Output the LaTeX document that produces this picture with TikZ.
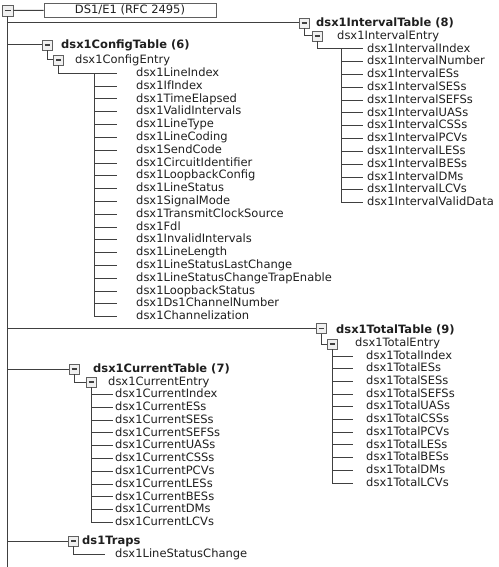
\documentclass[tikz,border=0pt]{standalone}
\usepackage{fontspec}
\setmainfont{DejaVu Sans}
\usepackage{tikz}
\usetikzlibrary{positioning}
\tikzset{
  minusbox/.style={rectangle, draw=gray!75!black, line width=0.9pt, fill=gray!12,
                   minimum width=10pt, minimum height=10pt, inner sep=0pt,
                   path picture={\draw[line width=1.4pt, black!75]
                     ([xshift=2.5pt]path picture bounding box.west) --
                     ([xshift=-2.5pt]path picture bounding box.east);}},
  leaf/.style={anchor=west, inner sep=0pt, text height=8.5pt, text depth=2.2pt,
               text=black!88, font=\fontsize{11.5}{13}\selectfont},
  tabl/.style={leaf, font=\fontsize{11.5}{13}\selectfont\bfseries},
  wire/.style={line width=1pt, draw=black!75},
}

\begin{document}
\begin{tikzpicture}[x=1pt, y=-1pt]
  \useasboundingbox (0,0) rectangle (498,567);
  % root of the tree
  \node[minusbox, minimum size=11pt] (root) at (7.5,10.5) {};
  \node[draw=gray!75!black, line width=0.9pt, minimum width=172pt, minimum height=14pt,
        inner sep=0pt, text=black!88, font=\fontsize{11.5}{13}\selectfont] (mib) at (130,10) {DS1/E1 (RFC 2495)};
  \coordinate (bot) at (7.5,567);
  \draw[wire] (root) -- (mib);
  \draw[wire] (root.south) -- (bot);

  % dsx1IntervalTable
  \node[minusbox] (ivt) at (304,23) {};
  \node[tabl] (ivtT) at (316,23) {dsx1IntervalTable (8)};
  \node[minusbox] (ive) at (317,36) {};
  \node[leaf] (iveT) at (337,36) {dsx1IntervalEntry};
  \foreach \n [count=\i] in {Index,Number,ESs,SESs,SEFSs,UASs,CSSs,PCVs,LESs,BESs,DMs,LCVs,ValidData}
    \node[leaf] (iv\i) at (367,{36.2+12.8*\i}) {dsx1Interval\n};
  \draw[wire] (root.south |- ivt) -- (ivt);
  \draw[wire] (ivt.south) |- (ive.west);
  \draw[wire] (ive.south) |- ([xshift=-26pt]iv1.west) -- ([xshift=-26pt]iv13.west);
  \foreach \i in {1,...,13}
    \draw[wire] ([xshift=-26pt]iv\i.west) -- ([xshift=-4pt]iv\i.west);

  % dsx1ConfigTable
  \node[minusbox] (cft) at (47,45) {};
  \node[tabl] (cftT) at (61,45) {dsx1ConfigTable (6)};
  \node[minusbox] (cfe) at (58.5,60) {};
  \node[leaf] (cfeT) at (75,60) {dsx1ConfigEntry};
  \foreach \n [count=\i] in {LineIndex,IfIndex,TimeElapsed,ValidIntervals,LineType,LineCoding,
      SendCode,CircuitIdentifier,LoopbackConfig,LineStatus,SignalMode,TransmitClockSource,Fdl,
      InvalidIntervals,LineLength,LineStatusLastChange,LineStatusChangeTrapEnable,LoopbackStatus,
      Ds1ChannelNumber,Channelization}
    \node[leaf] (cf\i) at (136,{60.6+12.8*\i}) {dsx1\n};
  \draw[wire] (root.south |- cft) -- (cft);
  \draw[wire] (cft.south) |- (cfe.west);
  \draw[wire] (cfe.south) |- ([xshift=-42pt]cf1.west) -- ([xshift=-42pt]cf20.west);
  \foreach \i in {1,...,20}
    \draw[wire] ([xshift=-42pt]cf\i.west) -- ([xshift=-19pt]cf\i.west);

  % dsx1TotalTable
  \node[minusbox] (ttt) at (321,328.5) {};
  \node[tabl] (tttT) at (336,330) {dsx1TotalTable (9)};
  \node[minusbox] (tte) at (332,344) {};
  \node[leaf] (tteT) at (355,343) {dsx1TotalEntry};
  \foreach \n [count=\i] in {Index,ESs,SESs,SEFSs,UASs,CSSs,PCVs,LESs,BESs,DMs,LCVs}
    \node[leaf] (tt\i) at (366,{343.3+12.7*\i}) {dsx1Total\n};
  \draw[wire] (root.south |- ttt) -- (ttt);
  \draw[wire] (ttt.south) |- (tte.west);
  \draw[wire] (tte.south) -- ([xshift=-34pt]tt11.west);
  \foreach \i in {1,...,11}
    \draw[wire] ([xshift=-34pt]tt\i.west) -- ([xshift=-13pt]tt\i.west);

  % dsx1CurrentTable
  \node[minusbox] (cut) at (74,369) {};
  \node[tabl] (cutT) at (93,369) {dsx1CurrentTable (7)};
  \node[minusbox] (cue) at (91,382) {};
  \node[leaf] (cueT) at (108,382) {dsx1CurrentEntry};
  \foreach \n [count=\i] in {Index,ESs,SESs,SEFSs,UASs,CSSs,PCVs,LESs,BESs,DMs,LCVs}
    \node[leaf] (cu\i) at (115,{381.7+12.8*\i}) {dsx1Current\n};
  \draw[wire] (root.south |- cut) -- (cut);
  \draw[wire] (cut.south) |- (cue.west);
  \draw[wire] (cue.south) -- ([xshift=-24pt]cu11.west);
  \foreach \i in {1,...,11}
    \draw[wire] ([xshift=-24pt]cu\i.west) -- ([xshift=-2pt]cu\i.west);

  % ds1Traps
  \node[minusbox] (trp) at (73.5,541) {};
  \node[tabl] (trpT) at (82,541) {ds1Traps};
  \node[leaf] (lsc) at (115,554) {dsx1LineStatusChange};
  \draw[wire] (root.south |- trp) -- (trp);
  \draw[wire] (trp.south) |- ([xshift=-10pt]lsc.west);
\end{tikzpicture}
\end{document}
